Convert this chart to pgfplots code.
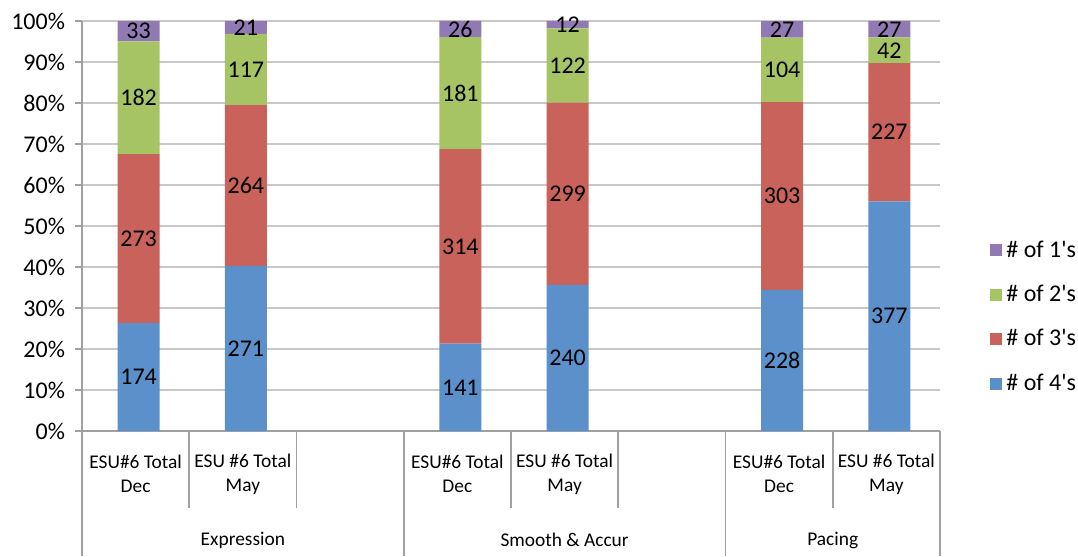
\documentclass[border=0pt]{standalone}
\usepackage{pgfplots}
\usepackage{pgfplotstable}
\usepackage{fontspec}
\setmainfont{Carlito}
\pgfplotsset{compat=1.18}
\definecolor{cfour}{RGB}{91,144,203}
\definecolor{cthree}{RGB}{200,98,90}
\definecolor{ctwo}{RGB}{167,196,101}
\definecolor{cone}{RGB}{145,121,180}
\definecolor{gridc}{RGB}{200,200,200}
\definecolor{axc}{RGB}{160,160,160}
\pgfplotstableread{
x  four three two one tot
0  174  273  182  33  662
1  271  264  117  21  673
3  141  314  181  26  662
4  240  299  122  12  673
6  228  303  104  27  662
7  377  227  42   27  673
}\data
\pgfplotsset{
  /pgf/number format/assume math mode=true,
  base/.style={width=429pt, height=205pt, scale only axis,
    xmin=-0.5, xmax=7.5, ymin=0, ymax=100, clip=false},
  lab/.style={draw=none, nodes near coords={\pgfmathprintnumber{\pgfplotspointmeta}},
    point meta=explicit,
    nodes near coords style={anchor=center, xshift=1.5pt, font=\fontsize{12}{14}\selectfont, text=black}},
  sqleg/.style={legend image code/.code={\fill[##1] (-3pt,-3pt) rectangle (3pt,3pt);}},
}
\begin{document}
\begin{tikzpicture}
\begin{axis}[base, ybar stacked, bar width=21pt, bar shift=1.5pt,
  axis x line=bottom, axis y line=left,
  axis line style={draw=axc, -, line width=0.8pt},
  xtick=\empty,
  ytick={0,10,...,100},
  yticklabel={\pgfmathprintnumber{\tick}\%},
  yticklabel style={font=\fontsize{12}{14}\selectfont, xshift=-1.5pt},
  tick align=outside, major tick length=3.5pt,
  y tick style={draw=axc, line width=0.8pt},
  ymajorgrids, grid style={draw=gridc, line width=0.8pt},
  reverse legend,
  legend cell align=left,
  legend style={draw=none, fill=none, at={(1,0.278)}, anchor=west, xshift=22pt,
    font=\fontsize{12}{14}\selectfont, row sep=8.5pt},
]
\addplot[fill=cfour, draw=none, sqleg]
  table[x=x, y expr=\thisrow{four}/\thisrow{tot}*100] {\data};
\addlegendentry{\# of 4\textquotesingle s}
\addplot[fill=cthree, draw=none, sqleg]
  table[x=x, y expr=\thisrow{three}/\thisrow{tot}*100] {\data};
\addlegendentry{\# of 3\textquotesingle s}
\addplot[fill=ctwo, draw=none, sqleg]
  table[x=x, y expr=\thisrow{two}/\thisrow{tot}*100] {\data};
\addlegendentry{\# of 2\textquotesingle s}
\addplot[fill=cone, draw=none, sqleg]
  table[x=x, y expr=\thisrow{one}/\thisrow{tot}*100] {\data};
\addlegendentry{\# of 1\textquotesingle s}
\coordinate (sw) at (rel axis cs:0,0);
\coordinate (ne) at (rel axis cs:1,1);
\draw[axc, line width=0.8pt] (axis cs:0.5,0) -- ++(0pt,-38.5pt);
\draw[axc, line width=0.8pt] (axis cs:1.5,0) -- ++(0pt,-38.5pt);
\draw[axc, line width=0.8pt] (axis cs:3.5,0) -- ++(0pt,-38.5pt);
\draw[axc, line width=0.8pt] (axis cs:4.5,0) -- ++(0pt,-38.5pt);
\draw[axc, line width=0.8pt] (axis cs:6.5,0) -- ++(0pt,-38.5pt);
\draw[axc, line width=0.8pt] (axis cs:-0.5,0) -- ++(0pt,-62.5pt);
\draw[axc, line width=0.8pt] (axis cs:2.5,0) -- ++(0pt,-62.5pt);
\draw[axc, line width=0.8pt] (axis cs:5.5,0) -- ++(0pt,-62.5pt);
\draw[axc, line width=0.8pt] (axis cs:7.5,0) -- ++(0pt,-62.5pt);
\tikzset{catlab/.style={anchor=center, yshift=-21.5pt, align=center, font=\fontsize{9.7}{12}\selectfont}}
\node[catlab] at (axis cs:0,0) {ESU\#6 Total\\Dec};
\node[catlab] at (axis cs:1,0) {ESU \#6 Total\\May};
\node[catlab] at (axis cs:3,0) {ESU\#6 Total\\Dec};
\node[catlab] at (axis cs:4,0) {ESU \#6 Total\\May};
\node[catlab] at (axis cs:6,0) {ESU\#6 Total\\Dec};
\node[catlab] at (axis cs:7,0) {ESU \#6 Total\\May};
\tikzset{grplab/.style={anchor=center, yshift=-54.5pt, font=\fontsize{9.7}{12}\selectfont}}
\node[grplab] at (axis cs:1,0) {Expression};
\node[grplab] at (axis cs:4,0) {Smooth \& Accur};
\node[grplab] at (axis cs:6.5,0) {Pacing};
\end{axis}
\begin{axis}[base, hide axis]
\addplot[lab] table[x=x, y expr=0.5*\thisrow{four}/\thisrow{tot}*100, meta=four] {\data};
\addplot[lab] table[x=x, y expr=(\thisrow{four}+0.5*\thisrow{three})/\thisrow{tot}*100, meta=three] {\data};
\addplot[lab] table[x=x, y expr=(\thisrow{four}+\thisrow{three}+0.5*\thisrow{two})/\thisrow{tot}*100, meta=two] {\data};
\addplot[lab] table[x=x, y expr=(\thisrow{four}+\thisrow{three}+\thisrow{two}+0.5*\thisrow{one})/\thisrow{tot}*100, meta=one] {\data};
\end{axis}
\pgfresetboundingbox
\path[use as bounding box] ([shift={(-41pt,-62.5pt)}]sw) rectangle ([shift={(69pt,10.5pt)}]ne);
\end{tikzpicture}
\end{document}
